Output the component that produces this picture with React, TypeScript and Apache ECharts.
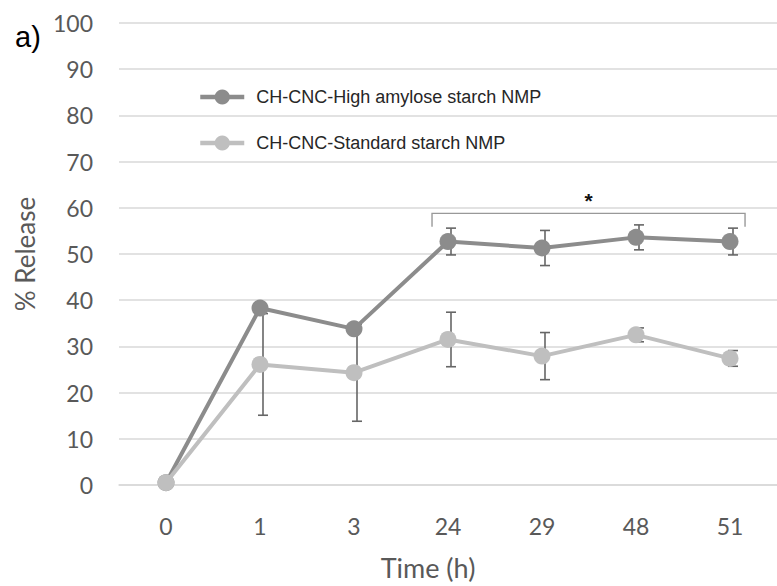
import React, { useEffect, useRef } from "react";
import * as echarts from "echarts";

const categories = ["0", "1", "3", "24", "29", "48", "51"];
const highAmylose = [0.5, 38.3, 33.8, 52.7, 51.3, 53.6, 52.7];
const highAmyloseErr = [0, 0, 0, 2.9, 3.8, 2.7, 2.9];
const standard = [0.5, 26.1, 24.3, 31.5, 27.9, 32.5, 27.4];
const standardErr = [0, 11, 10.5, 5.9, 5.1, 1.5, 1.7];
const seriesNames = ["CH-CNC-High amylose starch NMP", "CH-CNC-Standard starch NMP"];
const bracketStart = 3; // index of "24"
const bracketEnd = 6; // index of "51"
const bracketTop = 58.8;
const bracketDrop = 2.9;
const bracketLabel = "*";

const DARK = "#8c8c8c";
const LIGHT = "#bfbfbf";
const AXIS_FONT = "Lato, 'Open Sans', sans-serif";

function errData(vals: number[], errs: number[]) {
  return vals.map((v, i) => [i, v - errs[i], v + errs[i]]).filter((_, i) => errs[i] > 0);
}

function errRender(params: any, api: any) {
  const x = api.value(0);
  const lo = api.coord([x, api.value(1)]);
  const hi = api.coord([x, api.value(2)]);
  const off = 3;
  const cap = 5;
  const style = { stroke: "#666666", lineWidth: 1.6 };
  return {
    type: "group",
    children: [
      { type: "line", shape: { x1: lo[0] + off, y1: lo[1], x2: hi[0] + off, y2: hi[1] }, style },
      { type: "line", shape: { x1: lo[0] + off - cap, y1: lo[1], x2: lo[0] + off + cap, y2: lo[1] }, style },
      { type: "line", shape: { x1: hi[0] + off - cap, y1: hi[1], x2: hi[0] + off + cap, y2: hi[1] }, style },
    ],
  };
}

function bracketRender(params: any, api: any) {
  const band = api.size([1, 0])[0];
  const a = api.coord([bracketStart, bracketTop]);
  const b = api.coord([bracketEnd, bracketTop]);
  const drop = api.coord([bracketStart, bracketTop - bracketDrop])[1];
  const x1 = a[0] - band * 0.17;
  const x2 = b[0] + band * 0.16;
  return {
    type: "group",
    children: [
      {
        type: "polyline",
        shape: { points: [[x1, drop], [x1, a[1]], [x2, a[1]], [x2, drop]] },
        style: { stroke: "#999999", lineWidth: 1.4, fill: null },
      },
      {
        type: "text",
        style: {
          text: bracketLabel,
          x: (x1 + x2) / 2,
          y: a[1] - 2,
          align: "center",
          verticalAlign: "bottom",
          font: "bold 21px 'Liberation Sans', Arial, sans-serif",
          fill: "#111111",
        },
      },
    ],
  };
}

export default function App() {
  const ref = useRef<HTMLDivElement>(null);
  useEffect(() => {
    if (!ref.current) return;
    const chart = echarts.init(ref.current, null, { renderer: "svg" });
    chart.setOption({
      animation: false,
      backgroundColor: "#ffffff",
      grid: { left: 119, top: 23, width: 660, height: 463, containLabel: false },
      legend: {
        orient: "vertical",
        left: 193,
        top: 83,
        itemWidth: 44,
        itemHeight: 19,
        itemGap: 28,
        data: seriesNames,
        lineStyle: { width: 4.5 },
        textStyle: {
          fontFamily: "'Liberation Sans', Arial, sans-serif",
          fontSize: 18,
          color: "#262626",
          padding: [0, 0, 0, 7],
        },
      },
      graphic: [
        {
          type: "text",
          left: 15,
          top: 22,
          style: {
            text: "a)",
            font: "500 29px 'Liberation Sans', Arial, sans-serif",
            fill: "#000000",
          },
        },
      ],
      xAxis: {
        type: "category",
        data: categories,
        boundaryGap: true,
        axisLine: { show: true, lineStyle: { color: "#d9d9d9", width: 1.5 } },
        axisTick: { show: false },
        axisLabel: { fontFamily: AXIS_FONT, fontSize: 23, color: "#595959", margin: 29 },
        name: "Time (h)",
        nameLocation: "middle",
        nameGap: 69,
        nameTextStyle: { fontFamily: AXIS_FONT, fontSize: 27, color: "#595959", padding: [0, 40, 0, 0] },
      },
      yAxis: {
        type: "value",
        min: 0,
        max: 100,
        interval: 10,
        axisLine: { show: false },
        axisTick: { show: false },
        splitLine: { lineStyle: { color: "#d9d9d9", width: 1.5 } },
        axisLabel: { fontFamily: AXIS_FONT, fontSize: 23, color: "#595959", margin: 26 },
        name: "% Release",
        nameLocation: "middle",
        nameGap: 81,
        nameRotate: 90,
        nameTextStyle: { fontFamily: AXIS_FONT, fontSize: 26, color: "#595959" },
      },
      series: [
        {
          type: "custom",
          name: "errHigh",
          renderItem: errRender,
          data: errData(highAmylose, highAmyloseErr),
          z: 1,
          silent: true,
        },
        {
          type: "custom",
          name: "errStd",
          renderItem: errRender,
          data: errData(standard, standardErr),
          z: 1,
          silent: true,
        },
        {
          type: "line",
          name: seriesNames[0],
          data: highAmylose,
          symbol: "circle",
          symbolSize: 17,
          itemStyle: { color: DARK },
          lineStyle: { color: DARK, width: 4 },
          z: 3,
        },
        {
          type: "line",
          name: seriesNames[1],
          data: standard,
          symbol: "circle",
          symbolSize: 17,
          itemStyle: { color: LIGHT },
          lineStyle: { color: LIGHT, width: 4 },
          z: 4,
        },
        {
          type: "custom",
          name: "bracket",
          renderItem: bracketRender,
          data: [[bracketStart, bracketTop]],
          z: 5,
          silent: true,
        },
      ],
    });
    return () => chart.dispose();
  }, []);
  return <div ref={ref} style={{ width: 777, height: 586, position: "absolute", left: 0, top: 0 }} />;
}
